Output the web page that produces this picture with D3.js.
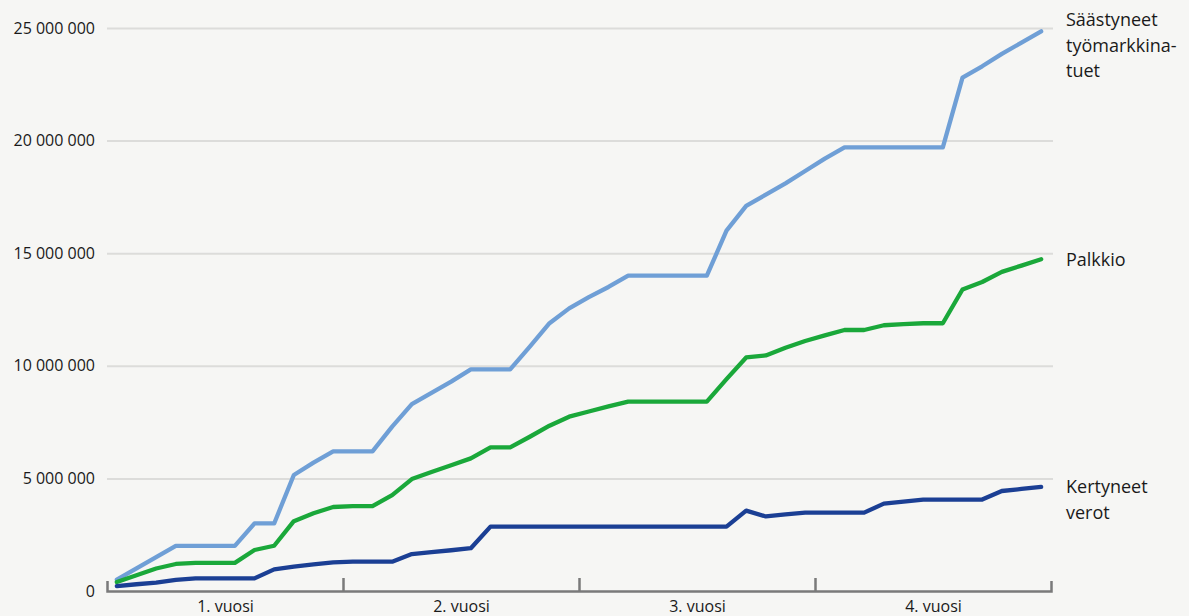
<!DOCTYPE html>
<html>
<head>
<meta charset="utf-8">
<script src="https://cdn.jsdelivr.net/npm/d3@7/dist/d3.min.js"></script>
<style>
  html, body { margin: 0; padding: 0; background: #f6f6f4; }
  svg { display: block; font-family: "Open Sans", "Noto Sans", sans-serif; }
</style>
</head>
<body>
<svg id="chart" width="1189" height="616"></svg>
<script>
// ---- data (millions of euros, cumulative, monthly over 4 years) ----
const years = ["1. vuosi", "2. vuosi", "3. vuosi", "4. vuosi"];
const yTicks = [0, 5000000, 10000000, 15000000, 20000000, 25000000];

const saastyneet = [
  0.5, 1.0, 1.5, 2.0, 2.0, 2.0, 2.0, 3.0, 3.0, 5.15, 5.7, 6.2,
  6.2, 6.2, 7.3, 8.3, 8.8, 9.3, 9.84, 9.84, 9.84, 10.85, 11.89, 12.55,
  13.05, 13.5, 14.0, 14.0, 14.0, 14.0, 14.0, 16.0, 17.1, 17.6, 18.1, 18.65,
  19.2, 19.7, 19.7, 19.7, 19.7, 19.7, 19.7, 22.8, 23.3, 23.85, 24.35, 24.85
];
const palkkio = [
  0.4, 0.7, 1.0, 1.2, 1.25, 1.25, 1.25, 1.82, 2.01, 3.1, 3.45, 3.73,
  3.77, 3.77, 4.26, 4.97, 5.28, 5.58, 5.89, 6.38, 6.38, 6.85, 7.34, 7.74,
  7.97, 8.2, 8.41, 8.41, 8.41, 8.41, 8.41, 9.41, 10.37, 10.46, 10.8, 11.1,
  11.35, 11.59, 11.59, 11.8, 11.85, 11.89, 11.89, 13.39, 13.72, 14.17, 14.45, 14.73
];
const verot = [
  0.22, 0.3, 0.37, 0.49, 0.56, 0.56, 0.56, 0.56, 0.96, 1.08, 1.18, 1.27,
  1.3, 1.3, 1.3, 1.64, 1.73, 1.81, 1.9, 2.86, 2.86, 2.86, 2.86, 2.86,
  2.86, 2.86, 2.86, 2.86, 2.86, 2.86, 2.86, 2.86, 3.57, 3.31, 3.4, 3.48,
  3.48, 3.48, 3.48, 3.88, 3.97, 4.06, 4.06, 4.06, 4.06, 4.44, 4.53, 4.62
];
const seriesNames = [["Säästyneet", "työmarkkina-", "tuet"], ["Palkkio"], ["Kertyneet", "verot"]];
const seriesColors = ["#6f9fd6", "#1aa83a", "#1b3f94"];

// ---- layout ----
const svg = d3.select("#chart");
const mLeft = 107, mRight = 1051, mTop = 28, mBottom = 591;

const x = d3.scaleLinear().domain([0, years.length]).range([mLeft, mRight]);
const y = d3.scaleLinear().domain([0, 25000000]).range([mBottom, mTop]);

// gridlines
svg.append("g")
  .attr("transform", `translate(${mLeft},0)`)
  .call(d3.axisLeft(y).tickValues(yTicks.slice(1)).tickSize(-(mRight - mLeft + 2)).tickFormat(""))
  .call(g => g.select(".domain").remove())
  .call(g => g.selectAll("line").attr("stroke", "#dcdcda").attr("stroke-width", 2));

// y labels
const fmt = v => d3.format(",")(v).replace(/,/g, "\u00a0");
svg.append("g")
  .attr("transform", `translate(${mLeft},0)`)
  .call(d3.axisLeft(y).tickValues(yTicks).tickSize(0).tickPadding(12).tickFormat(fmt))
  .call(g => g.select(".domain").remove())
  .call(g => g.selectAll("text").attr("fill", "#1a1a1a").style("font-size", "16px")
    .style("font-family", "'Open Sans', sans-serif"));

// lines
const all = [saastyneet, palkkio, verot];
const line = d3.line()
  .x((d, i) => x((i + 0.5) / 12))
  .y(d => y(d * 1000000));

svg.append("g").selectAll("path")
  .data(all)
  .join("path")
  .attr("d", d => line(d))
  .attr("fill", "none")
  .attr("stroke", (d, i) => seriesColors[i])
  .attr("stroke-width", 4.3)
  .attr("stroke-linejoin", "round")
  .attr("stroke-linecap", "round");

// x axis
svg.append("g")
  .attr("transform", `translate(0,${mBottom})`)
  .call(d3.axisBottom(x).tickValues([1, 2, 3]).tickSizeInner(-13).tickSizeOuter(-10).tickFormat(""))
  .call(g => g.select(".domain").attr("stroke", "#7a7a7a").attr("stroke-width", 2.5))
  .call(g => g.selectAll(".tick line").attr("stroke", "#7a7a7a").attr("stroke-width", 2.5));

svg.append("g")
  .attr("transform", `translate(0,${mBottom})`)
  .call(d3.axisBottom(x).tickValues(years.map((d, i) => i + 0.5)).tickSize(0).tickPadding(10)
    .tickFormat((d, i) => years[i]))
  .call(g => g.select(".domain").remove())
  .call(g => g.selectAll("text").attr("fill", "#1a1a1a").style("font-size", "16px")
    .style("font-family", "'Open Sans', sans-serif"));

// series labels
const labelY = [20, 260, 487];
seriesNames.forEach((lines, i) => {
  const t = svg.append("text")
    .attr("x", 1066)
    .attr("y", labelY[i])
    .attr("fill", "#1a1a1a")
    .style("font-size", "18px");
  lines.forEach((s, j) => {
    t.append("tspan").attr("x", 1066).attr("dy", j === 0 ? "0.35em" : "25.5px").text(s);
  });
});
</script>
</body>
</html>
